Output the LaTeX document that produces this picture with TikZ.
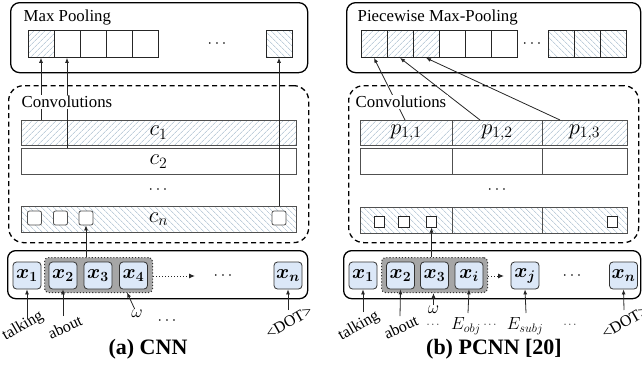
\RequirePackage{fix-cm}
\documentclass[tikz,border=0pt]{standalone}
\usepackage{fontspec}
\setmainfont{Liberation Serif}
\usepackage{bm}
\usetikzlibrary{patterns.meta,arrows.meta}
\definecolor{hatch}{HTML}{9DB4C8}
\definecolor{xfill}{HTML}{DCE8F8}
\definecolor{edge}{HTML}{505050}
\tikzset{
  box/.style={draw=black,line width=1.3pt,rounded corners=9pt,anchor=north west,inner sep=0pt},
  dbox/.style={draw=black,line width=1.3pt,dash pattern=on 5pt off 3.5pt,rounded corners=15pt,anchor=north west,inner sep=0pt},
  ttl/.style={font=\fontsize{16.8}{18}\selectfont,inner sep=1.5pt,anchor=west},
  hatchA/.style={pattern={Lines[angle=45,distance=4pt,line width=0.6pt]},pattern color=hatch},
  hatchB/.style={pattern={Lines[angle=-45,distance=4pt,line width=0.6pt]},pattern color=hatch},
  cell/.style={draw=black!85,line width=0.8pt,minimum width=26pt,minimum height=27pt,inner sep=0pt},
  bar/.style={draw=edge,line width=0.9pt,minimum height=26pt,inner sep=0pt,font=\fontsize{22.5}{24}\selectfont},
  sq/.style={draw=edge,fill=white,line width=0.8pt,rounded corners=2pt,minimum size=14pt,inner sep=0pt},
  sqs/.style={draw=black!85,fill=white,line width=0.8pt,minimum size=10.5pt,inner sep=0pt},
  xnode/.style={draw=black!80,fill=xfill,line width=0.8pt,rounded corners=3.5pt,minimum width=28pt,minimum height=27pt,inner sep=0pt,font=\fontsize{20}{22}\selectfont},
  win/.style={fill=gray!70,draw=gray!40!black,dotted,line width=1.1pt,rounded corners=4pt,anchor=north west,inner sep=0pt},
  arr/.style={draw=black!85,line width=0.8pt,-{Latex[length=5pt,width=4pt]}},
  dotarr/.style={draw=black!85,line width=1pt,dotted,-{Latex[length=6pt,width=5pt]}},
  lbl/.style={font=\fontsize{16}{18}\selectfont,inner sep=1pt},
  mlbl/.style={font=\fontsize{17.5}{20}\selectfont,inner sep=1pt},
  dots/.style={font=\fontsize{16}{18}\selectfont,inner sep=1pt},
  sdots/.style={font=\fontsize{11}{12}\selectfont,inner sep=1pt},
  captxt/.style={font=\fontsize{22}{24}\selectfont\bfseries,inner sep=1pt}
}
\begin{document}
\begin{tikzpicture}[x=1pt,y=-1pt]
\useasboundingbox (0,0) rectangle (642,383);
% ================= (a) CNN =================
\node[box,minimum width=297pt,minimum height=70pt] (mpA) at (10,2) {};
\node[cell,hatchA] (a1) at (41,44) {};
\node[cell] (a2) at (67,44) {};
\node[cell] (a3) at (93,44) {};
\node[cell] (a4) at (119,44) {};
\node[cell] (a5) at (145,44) {};
\node[dots] (aD) at (217,44) {$\cdots$};
\node[cell,hatchB] (a6) at (279,44) {};
\node[dbox,minimum width=300pt,minimum height=157pt] (cvA) at (8,85) {};
\node[bar,hatchA,minimum width=275pt,minimum height=25pt] (c1) at (158.5,132.5) {$c_1$};
\node[bar,minimum width=275pt] (c2) at (158.5,161.5) {$c_2$};
\node[dots] (cD) at (158,190) {$\cdots$};
\node[bar,hatchB,minimum width=275pt] (cn) at (158.5,219) {$c_n$};
\node[sq] (s1) at (34.5,218) {};
\node[sq] (s2) at (60.5,218) {};
\node[sq] (s3) at (86,218) {};
\node[sq] (s4) at (279,218) {};
\node[box,minimum width=300pt,minimum height=48pt,rounded corners=8pt] (inA) at (7,250) {};
\node[win,minimum width=108pt,minimum height=35pt] (winA) at (44,257) {};
\node[xnode] (x1) at (27,275.5) {$\bm{x_1}$};
\node[xnode] (x2) at (63,275.5) {$\bm{x_2}$};
\node[xnode] (x3) at (98,275.5) {$\bm{x_3}$};
\node[xnode] (x4) at (133.5,275.5) {$\bm{x_4}$};
\node[xnode] (xn) at (288,275.5) {$\bm{x_n}$};
\coordinate (dA) at (195,276);
\draw[dotarr] (winA.east |- dA) -- (dA);
\node[dots] (iD) at (223,276) {$\cdots$};
% arrows to pooling
\draw[arr] (c1.north -| a1.south) -- (a1.south);
\draw[arr] (c2.north -| a2.south) -- (a2.south);
\draw[arr] (cn.north -| a6.south) -- (a6.south);
\draw[arr] (winA.north -| s3.south) -- (s3.south);
\node[ttl,fill=white] (cvAt) at (20,102) {Convolutions};
\node[ttl] (mpAt) at (22,17) {Max Pooling};
% labels
\node[lbl,rotate=30] (lA1) at (23,326) {talking};
\coordinate (tA1) at (27,319);
\draw[arr] (tA1) -- (x1.south);
\node[lbl,rotate=25] (lA2) at (65,327) {about};
\coordinate (tA2) at (63,316);
\draw[arr] (tA2) -- (x2.south);
\node[mlbl] (omA) at (137,314) {$\omega$};
\coordinate (wA) at (127,292.5);
\draw[arr] (omA) -- (wA);
\node[dots] (lAD) at (167,321) {$\cdots$};
\node[lbl,rotate=30] (lAn) at (289,322) {\textless DOT\textgreater};
\coordinate (tAn) at (288,310);
\draw[arr] (tAn) -- (xn.south);
\node[captxt] (capA) at (148,349) {(a) CNN};
% ================= (b) PCNN =================
\node[box,minimum width=294pt,minimum height=70pt] (mpB) at (346,2) {};
\node[cell,hatchA] (q1) at (374,44) {};
\node[cell,hatchA] (q2) at (400,44) {};
\node[cell,hatchA] (q3) at (426,44) {};
\node[cell] (q4) at (452,44) {};
\node[cell] (q5) at (478,44) {};
\node[cell] (q6) at (504,44) {};
\node[dots] (qD) at (532,44) {$\cdots$};
\node[cell,hatchB] (q7) at (561,44) {};
\node[cell,hatchB] (q8) at (587,44) {};
\node[cell,hatchB] (q9) at (613,44) {};
\node[dbox,minimum width=290pt,minimum height=157pt] (cvB) at (348,85) {};
\node[bar,hatchA,minimum width=92pt,minimum height=25pt] (p11) at (406,132.5) {$p_{1,1}$};
\node[bar,hatchA,minimum width=90pt,minimum height=25pt] (p12) at (497,132.5) {$p_{1,2}$};
\node[bar,hatchA,minimum width=85pt,minimum height=25pt] (p13) at (584.5,132.5) {$p_{1,3}$};
\node[bar,minimum width=92pt] (p21) at (406,161.5) {};
\node[bar,minimum width=90pt] (p22) at (497,161.5) {};
\node[bar,minimum width=85pt] (p23) at (584.5,161.5) {};
\node[dots] (pD) at (497,190) {$\cdots$};
\node[bar,hatchB,minimum width=92pt] (pn1) at (406,220) {};
\node[bar,hatchB,minimum width=90pt] (pn2) at (497,220) {};
\node[bar,hatchB,minimum width=85pt] (pn3) at (584.5,220) {};
\node[sqs] (r1) at (379.5,222) {};
\node[sqs] (r2) at (404,222) {};
\node[sqs] (r3) at (431.5,222) {};
\node[sqs] (r4) at (612.5,222) {};
\node[box,minimum width=297pt,minimum height=48pt,rounded corners=8pt] (inB) at (343,250) {};
\node[win,minimum width=106pt,minimum height=35pt] (winB) at (381,257) {};
\node[xnode] (y1) at (363,275.5) {$\bm{x_1}$};
\node[xnode] (y2) at (400.5,275.5) {$\bm{x_2}$};
\node[xnode] (y3) at (434.5,275.5) {$\bm{x_3}$};
\node[xnode] (yi) at (469,275.5) {$\bm{x_i}$};
\node[xnode] (yj) at (525,275.5) {$\bm{x_j}$};
\node[xnode] (yn) at (623.5,275.5) {$\bm{x_n}$};
\coordinate (dB) at (504,276);
\draw[dotarr] (winB.east |- dB) -- (dB);
\node[dots] (jD) at (572,276) {$\cdots$};
% arrows to pooling
\coordinate (u1) at (405,120);
\coordinate (u2) at (480,120);
\coordinate (u3) at (560,120);
\draw[arr] (u1) -- (q1.south);
\draw[arr] (u2) -- (q2.south);
\draw[arr] (u3) -- (q3.south);
\draw[arr] (winB.north -| r3.south) -- (r3.south);
\node[ttl,fill=white] (cvBt) at (354,102) {Convolutions};
\node[ttl] (mpBt) at (356,17) {Piecewise Max-Pooling};
% labels
\node[lbl,rotate=30] (lB1) at (359,326) {talking};
\coordinate (tB1) at (363,312);
\draw[arr] (tB1) -- (y1.south);
\node[lbl,rotate=25] (lB2) at (401,327) {about};
\coordinate (tB2) at (400,316);
\draw[arr] (tB2) -- (y2.south);
\node[mlbl] (omB) at (433.5,310) {$\omega$};
\draw[arr] (omB) -- (omB |- winB.south);
\node[sdots] (lBD1) at (433,325) {$\cdots$};
\node[mlbl] (eo) at (466,326) {$E_{obj}$};
\coordinate (tBo) at (468,313);
\draw[arr] (tBo) -- (yi.south);
\node[sdots] (lBD2) at (490,325) {$\cdots$};
\node[mlbl] (es) at (525,326) {$E_{subj}$};
\coordinate (tBs) at (526,313);
\draw[arr] (tBs) -- (yj.south);
\node[sdots] (lBD3) at (570,325) {$\cdots$};
\node[lbl,rotate=30] (lBn) at (625,322) {\textless DOT\textgreater};
\coordinate (tBn) at (624,310);
\draw[arr] (tBn) -- (yn.south);
\node[captxt] (capB) at (494,349) {(b) PCNN [20]};
\end{tikzpicture}
\end{document}
